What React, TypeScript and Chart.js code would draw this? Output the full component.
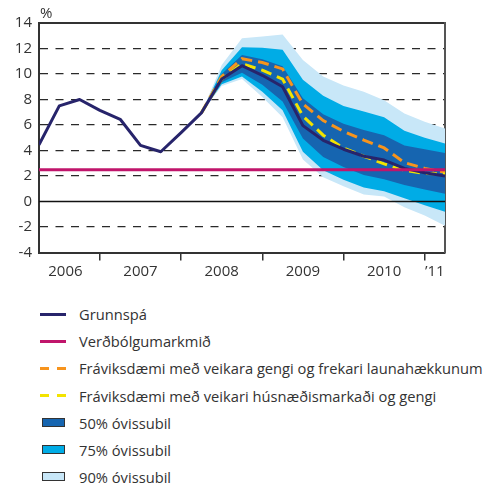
import React, { useEffect, useRef } from "react";
import { Chart, registerables } from "chart.js";

Chart.register(...registerables);

// ---- data (quarterly, index 0 = first quarter shown) ----
const quarterIndex = [0, 1, 2, 3, 4, 5, 6, 7, 8, 9, 10, 11, 12, 13, 14, 15, 16, 17, 18, 19, 20];

const grunnspa = [4.45, 7.5, 8.0, 7.15, 6.45, 4.4, 3.9, 5.4, 6.95, 9.6, 10.65, 9.9, 9.0, 5.95, 4.8, 4.1, 3.55, 3.25, 2.6, 2.25, 2.0];

const targetX = [0, 20];
const verdbolgumarkmid = [2.5, 2.5];

const fravik1 = [null, null, null, null, null, null, null, null, 6.95, 9.8, 11.2, 10.9, 10.4, 7.65, 6.35, 5.5, 4.82, 4.2, 3.05, 2.6, 2.3];
const fravik2 = [null, null, null, null, null, null, null, null, 6.95, 9.6, 10.8, 10.3, 9.6, 6.7, 5.2, 4.2, 3.55, 2.95, 2.45, 2.2, 2.15];

const band50Upper = [null, null, null, null, null, null, null, null, 6.95, 10.0, 11.5, 11.15, 10.6, 8.1, 6.85, 6.1, 5.6, 5.2, 4.4, 4.1, 3.8];
const band50Lower = [null, null, null, null, null, null, null, null, 6.95, 9.35, 10.1, 9.15, 7.85, 4.95, 3.5, 2.7, 2.07, 1.75, 1.3, 0.95, 0.6];
const band75Upper = [null, null, null, null, null, null, null, null, 6.95, 10.3, 12.1, 12.05, 11.9, 9.55, 8.3, 7.5, 7.05, 6.6, 5.55, 5.0, 4.55];
const band75Lower = [null, null, null, null, null, null, null, null, 6.95, 9.2, 9.8, 8.6, 7.15, 3.9, 2.45, 1.7, 1.1, 0.8, 0.25, -0.3, -0.8];
const band90Upper = [null, null, null, null, null, null, null, null, 6.95, 10.7, 12.8, 12.95, 13.1, 11.1, 9.8, 9.1, 8.6, 7.95, 6.9, 6.26, 5.73];
const band90Lower = [null, null, null, null, null, null, null, null, 6.95, 9.05, 9.6, 8.2, 6.6, 3.3, 1.9, 1.2, 0.55, 0.4, -0.45, -1.1, -1.9];

const yearBoundaries = [3, 7, 11, 15, 19];
const yearLabels = ["2006", "2007", "2008", "2009", "2010", "\u201911"];
const yearLabelPositions = [1.3, 5, 9, 13, 17, 19.5];

const seriesLabels = [
  "Grunnspá",
  "Verðbólgumarkmið",
  "Fráviksdæmi með veikara gengi og frekari launahækkunum",
  "Fráviksdæmi með veikari húsnæðismarkaði og gengi",
  "50% óvissubil",
  "75% óvissubil",
  "90% óvissubil",
];

// ---- styles ----
const FONT = '"Open Sans", "DejaVu Sans", sans-serif';
const TEXT = "#333333";
const NAVY = "#27246b";
const MAGENTA = "#c0156b";
const ORANGE = "#f7941d";
const YELLOW = "#f3e300";
const C50 = "#1665b0";
const C75 = "#00ace6";
const C90 = "#c8e7f8";

function toPoints(xs: number[], ys: (number | null)[]) {
  return xs
    .map((x, i) => ({ x, y: ys[i] }))
    .filter((p) => p.y !== null && p.y !== undefined);
}

const percentLabel = {
  id: "percentLabel",
  afterDraw(chart: any) {
    const ctx = chart.ctx;
    ctx.save();
    ctx.font = `15px ${FONT}`;
    ctx.fillStyle = TEXT;
    ctx.textAlign = "left";
    ctx.textBaseline = "alphabetic";
    ctx.fillText("%", chart.chartArea.left + 1, chart.chartArea.top - 5);
    ctx.restore();
  },
};

function ChartCanvas() {
  const ref = useRef<HTMLCanvasElement | null>(null);

  useEffect(() => {
    if (!ref.current) return;
    const lineBase = { pointRadius: 0, pointHoverRadius: 0, tension: 0, fill: false };
    const bandBase = { pointRadius: 0, pointHoverRadius: 0, tension: 0, borderWidth: 0 };
    const allXTicks = [...yearBoundaries, ...yearLabelPositions].sort((a, b) => a - b);

    const chart = new Chart(ref.current, {
      type: "line",
      data: {
        datasets: [
          {
            ...lineBase,
            label: seriesLabels[1],
            data: toPoints(targetX, verdbolgumarkmid),
            borderColor: MAGENTA,
            borderWidth: 3,
            order: 0,
          },
          {
            ...lineBase,
            label: seriesLabels[0],
            data: toPoints(quarterIndex, grunnspa),
            borderColor: NAVY,
            borderWidth: 3,
            borderJoinStyle: "round",
            order: 1,
          },
          {
            ...lineBase,
            label: seriesLabels[3],
            data: toPoints(quarterIndex, fravik2),
            borderColor: YELLOW,
            borderWidth: 3,
            borderDash: [11, 6],
            order: 2,
          },
          {
            ...lineBase,
            label: seriesLabels[2],
            data: toPoints(quarterIndex, fravik1),
            borderColor: ORANGE,
            borderWidth: 3,
            borderDash: [11, 6],
            order: 3,
          },
          {
            ...lineBase,
            label: "zero",
            data: toPoints(targetX, [0, 0]),
            borderColor: "#111111",
            borderWidth: 1.3,
            order: 4,
          },
          {
            ...bandBase,
            label: seriesLabels[4],
            data: toPoints(quarterIndex, band50Upper),
            backgroundColor: C50,
            borderColor: C50,
            fill: "+1",
            order: 10,
          },
          {
            ...bandBase,
            label: "50 lower",
            data: toPoints(quarterIndex, band50Lower),
            borderColor: C50,
            fill: false,
            order: 10,
          },
          {
            ...bandBase,
            label: seriesLabels[5],
            data: toPoints(quarterIndex, band75Upper),
            backgroundColor: C75,
            borderColor: C75,
            fill: "+1",
            order: 20,
          },
          {
            ...bandBase,
            label: "75 lower",
            data: toPoints(quarterIndex, band75Lower),
            borderColor: C75,
            fill: false,
            order: 20,
          },
          {
            ...bandBase,
            label: seriesLabels[6],
            data: toPoints(quarterIndex, band90Upper),
            backgroundColor: C90,
            borderColor: C90,
            fill: "+1",
            order: 30,
          },
          {
            ...bandBase,
            label: "90 lower",
            data: toPoints(quarterIndex, band90Lower),
            borderColor: C90,
            fill: false,
            order: 30,
          },
        ],
      },
      options: {
        responsive: false,
        animation: false,
        devicePixelRatio: 1,
        layout: { padding: { left: 0, right: 53, top: 23, bottom: 0 } },
        plugins: {
          legend: { display: false },
          tooltip: { enabled: false },
          title: { display: false },
        },
        scales: {
          x: {
            type: "linear",
            position: "bottom",
            min: 0,
            max: 20,
            afterBuildTicks: (s: any) => {
              s.ticks = allXTicks.map((v) => ({ value: v }));
            },
            afterFit: (s: any) => {
              s.height = 37.5;
            },
            ticks: {
              autoSkip: false,
              maxRotation: 0,
              color: TEXT,
              padding: 2,
              font: { family: FONT, size: 15 },
              callback: (v: any) => {
                const k = yearLabelPositions.indexOf(Number(v));
                return k >= 0 ? yearLabels[k] : "";
              },
            },
            grid: {
              drawOnChartArea: false,
              drawTicks: true,
              tickLength: 8,
              lineWidth: 1.5,
              tickColor: (c: any) =>
                c.tick && yearBoundaries.includes(c.tick.value) ? TEXT : "rgba(0,0,0,0)",
            },
            border: { display: true, color: TEXT, width: 2 },
          },
          xTop: {
            type: "linear",
            position: "top",
            min: 0,
            max: 20,
            ticks: { display: false },
            grid: { display: false, drawTicks: false },
            border: { display: true, color: TEXT, width: 2 },
            afterFit: (s: any) => {
              s.height = 0;
            },
          },
          y: {
            type: "linear",
            position: "left",
            min: -4,
            max: 14,
            afterFit: (s: any) => {
              s.width = 39;
            },
            ticks: {
              stepSize: 2,
              color: TEXT,
              padding: 7,
              font: { family: FONT, size: 15 },
            },
            grid: {
              drawTicks: false,
              lineWidth: 1.2,
              color: (c: any) => {
                const v = c.tick ? c.tick.value : null;
                return v === 0 || v === 14 || v === -4 ? "rgba(0,0,0,0)" : "#2a2a2a";
              },
            },
            border: { display: true, color: TEXT, width: 2, dash: [8, 7.5] },
          },
          yRight: {
            type: "linear",
            position: "right",
            min: -4,
            max: 14,
            ticks: { display: false },
            grid: { display: false, drawTicks: false },
            border: { display: true, color: "#555555", width: 2 },
            afterFit: (s: any) => {
              s.width = 0;
            },
          },
        },
      },
      plugins: [percentLabel],
    } as any);
    return () => chart.destroy();
  }, []);

  return <canvas ref={ref} width={498} height={290} style={{ display: "block", width: 498, height: 290 }} />;
}

function Swatch({ kind, color }: { kind: string; color: string }) {
  if (kind === "line") {
    return <div style={{ width: 26, height: 3, background: color }} />;
  }
  if (kind === "dash") {
    return (
      <div style={{ display: "flex", width: 26 }}>
        <div style={{ width: 9, height: 3, background: color }} />
        <div style={{ width: 8 }} />
        <div style={{ width: 9, height: 3, background: color }} />
      </div>
    );
  }
  return (
    <div
      style={{
        marginLeft: 2,
        width: 21,
        height: 7,
        background: color,
        border: "1px solid #333",
      }}
    />
  );
}

const legendKinds = ["line", "line", "dash", "dash", "box", "box", "box"];
const legendColors = [NAVY, MAGENTA, ORANGE, YELLOW, C50, C75, C90];

export default function App() {
  return (
    <div
      style={{
        position: "absolute",
        left: 0,
        top: 0,
        width: 498,
        height: 487,
        background: "#ffffff",
        overflow: "hidden",
      }}
    >
      <ChartCanvas />
      {seriesLabels.map((label, i) => (
        <div
          key={label}
          style={{
            position: "absolute",
            left: 40,
            top: 314.2 - 13 + i * 27.1,
            height: 26,
            display: "flex",
            alignItems: "center",
            fontFamily: FONT,
            fontSize: 14.7,
            color: TEXT,
            whiteSpace: "nowrap",
          }}
        >
          <div style={{ width: 39, display: "flex", alignItems: "center" }}>
            <Swatch kind={legendKinds[i]} color={legendColors[i]} />
          </div>
          <span>{label}</span>
        </div>
      ))}
    </div>
  );
}
